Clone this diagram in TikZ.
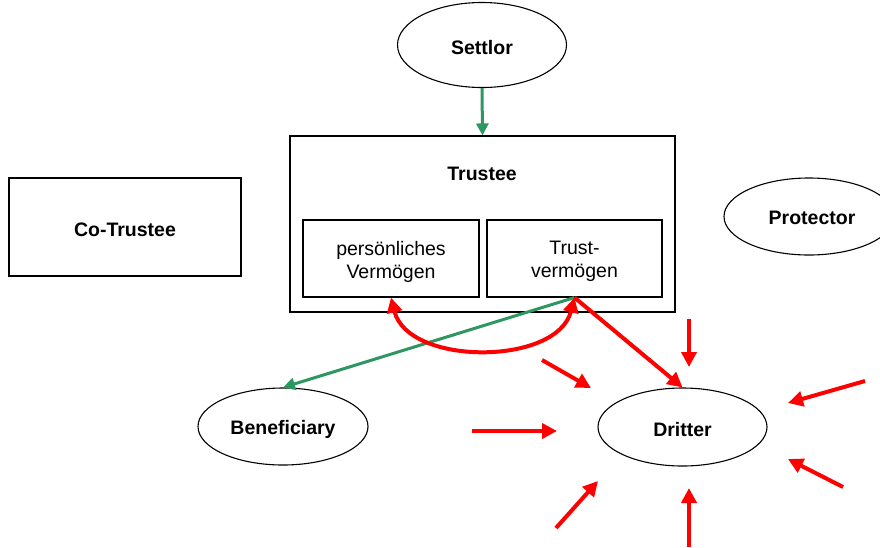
\documentclass[tikz,border=0pt]{standalone}
\usepackage{fontspec}
\setmainfont{Liberation Sans}
\usetikzlibrary{shapes.geometric,arrows.meta}
\definecolor{tgreen}{RGB}{46,150,96}
\definecolor{tred}{RGB}{255,0,0}
\tikzset{
  txt/.style={font=\fontsize{19.5}{23}\selectfont, align=center, text=black},
  boldtxt/.style={txt, font=\fontsize{19.5}{23}\selectfont\bfseries},
  bbox/.style={draw=black, line width=1.1pt, rectangle, inner sep=0pt},
  oval/.style={draw=black, line width=1.1pt, ellipse, inner sep=0pt},
  lowtxt/.style={txt, yshift=-3pt},
  lowbold/.style={boldtxt, yshift=-3pt},
  greenarrow/.style={draw=tgreen, line width=3pt, -{Triangle[length=12pt,width=12pt]}},
  redarrow/.style={draw=tred, line width=4pt, -{Triangle[length=15pt,width=15pt]}},
}
\begin{document}
\begin{tikzpicture}[x=1pt,y=-1pt]
\useasboundingbox (0,0) rectangle (880,547);
\clip (0,0) rectangle (880,547);
% nodes
\node[oval, minimum width=169pt, minimum height=85pt, label={[lowbold]center:Settlor}] (settlor) at (482,45) {};
\node[bbox, minimum width=385pt, minimum height=176pt] (trustee) at (482.5,224) {};
\node[boldtxt] (trusteelbl) at (482,174) {Trustee};
\node[bbox, minimum width=176pt, minimum height=77pt, label={[lowtxt]center:persönliches\\Vermögen}] (pv) at (391,258.5) {};
\node[bbox, minimum width=175pt, minimum height=77pt, label={[lowtxt]center:Trust-\\vermögen}] (tv) at (574.5,258.5) {};
\node[bbox, minimum width=232pt, minimum height=98pt, label={[lowbold]center:Co-Trustee}] (cotrustee) at (125,227) {};
\node[oval, minimum width=170pt, minimum height=77pt] (protector) at (809,216.5) {};
\node[boldtxt] (protectorlbl) at (812,217.5) {Protector};
\node[oval, minimum width=170pt, minimum height=77pt, label={[lowbold]center:Beneficiary}] (beneficiary) at (283,426.5) {};
\node[oval, minimum width=169pt, minimum height=78pt, label={[lowbold]center:Dritter}] (dritter) at (682.5,427) {};
% green connectors
\draw[greenarrow] (settlor.south) -- (trustee.north);
\draw[greenarrow] (tv.south) -- (beneficiary.north);
% red connectors
\draw[redarrow] (tv.south) -- (dritter.north);
\draw[draw=tred, line width=4pt, {Triangle[length=15pt,width=15pt]}-{Triangle[length=15pt,width=15pt]}]
  (pv.south) .. controls (408,366) and (557,366) .. (tv.south);
% free red arrows
\coordinate (a1s) at (689,319); \coordinate (a1e) at (689,367);
\coordinate (a2s) at (542,360); \coordinate (a2e) at (591,388);
\coordinate (a3s) at (472,431); \coordinate (a3e) at (557,431);
\coordinate (a4s) at (556,528); \coordinate (a4e) at (598,481);
\coordinate (a5s) at (689,547); \coordinate (a5e) at (689,488);
\coordinate (a6s) at (843,487); \coordinate (a6e) at (788,459);
\coordinate (a7s) at (865,381); \coordinate (a7e) at (788,403);
\foreach \i in {1,...,7} {\draw[redarrow] (a\i s) -- (a\i e);}
\end{tikzpicture}
\end{document}
